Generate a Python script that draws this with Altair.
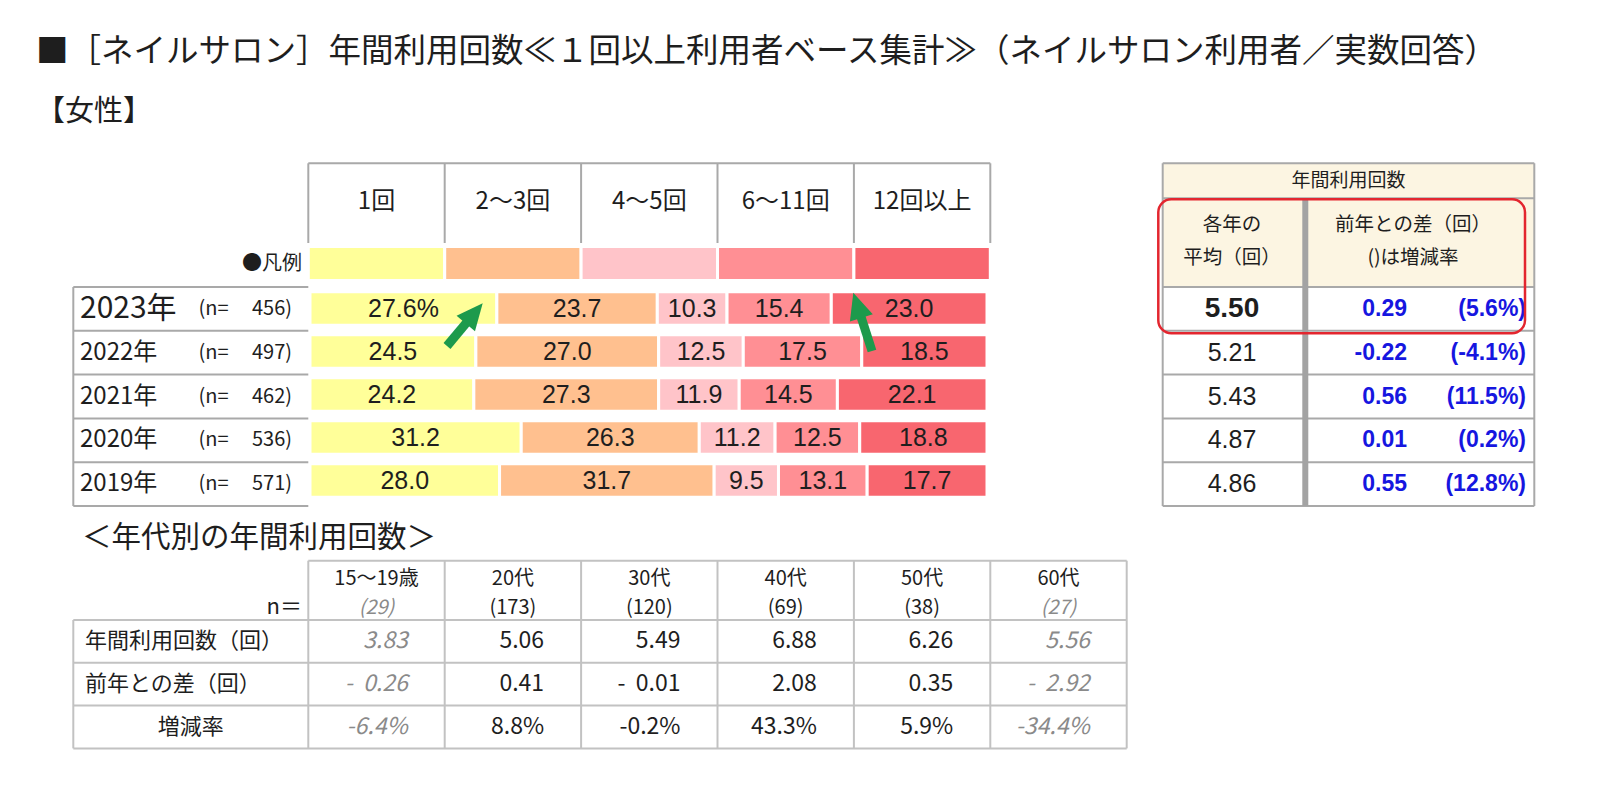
import altair as alt
import pandas as pd

# ------------------------------------------------------------------ data
categories = ["1回", "2～3回", "4～5回", "6～11回", "12回以上"]
years = ["2023年", "2022年", "2021年", "2020年", "2019年"]
sample_n = [456, 497, 462, 536, 571]
share_2023 = [27.6, 23.7, 10.3, 15.4, 23.0]
share_2022 = [24.5, 27.0, 12.5, 17.5, 18.5]
share_2021 = [24.2, 27.3, 11.9, 14.5, 22.1]
share_2020 = [31.2, 26.3, 11.2, 12.5, 18.8]
share_2019 = [28.0, 31.7, 9.5, 13.1, 17.7]
avg_count = [5.50, 5.21, 5.43, 4.87, 4.86]
diff_prev = [0.29, -0.22, 0.56, 0.01, 0.55]
rate_prev = [5.6, -4.1, 11.5, 0.2, 12.8]

age_groups = ["15～19歳", "20代", "30代", "40代", "50代", "60代"]
age_n = [29, 173, 120, 69, 38, 27]
age_avg = [3.83, 5.06, 5.49, 6.88, 6.26, 5.56]
age_diff = [-0.26, 0.41, -0.01, 2.08, 0.35, -2.92]
age_rate = [-6.4, 8.8, -0.2, 43.3, 5.9, -34.4]
age_row_labels = ["年間利用回数（回）", "前年との差（回）", "増減率"]

title_text = "■［ネイルサロン］年間利用回数≪１回以上利用者ベース集計≫（ネイルサロン利用者／実数回答）"
subtitle_text = "【女性】"
legend_text = "●凡例"
age_title = "＜年代別の年間利用回数＞"
rt_head = "年間利用回数"
rt_sub1 = ["各年の", "平均（回）"]
rt_sub2 = ["前年との差（回）", "()は増減率"]

# ------------------------------------------------------------------ layout / style
W, H = 1600, 791
JP = "Noto Sans CJK JP"
NUM = "Liberation Sans"
INK = "#1e1e1e"
GRID = "#a9a9a9"
GRID_LIGHT = "#c2c2c2"
CREAM = "#fcf5e2"
BLUE = "#1616e0"
GREY_TXT = "#8a8a8a"
RED = "#e3262f"
GREEN = "#1d9a4c"
palette = ["#ffff99", "#ffc08f", "#ffc4c9", "#ff8f94", "#f8666f"]
NBSP = "\u00a0"

COL0, COLW = 308.3, 136.4          # column grid shared by both tables
BAR_X = [310, 987]                 # 0 % .. 100 %
ROW0, ROWH = 287.0, 43.8           # year rows
BAR_Y = [287, 502]
HEAD_TOP, HEAD_BOT = 163.3, 243.0
LEG_Y = [246.5, 280.5]
LT_LEFT = 73.3
RT_L, RT_R, RT_MID, RT_H1 = 1162.7, 1534.3, 1305.3, 198.3
BOT_TOP, BOT_HB, BOT_ROWH = 560.7, 620.0, 42.8
ROW_END = ROW0 + 5 * ROWH
BOT_END = BOT_HB + 3 * BOT_ROWH
arrow_tail_x, arrow_tail_y = [447, 872], [346, 351]
arrow_tip_x, arrow_tip_y = [482.7, 853.3], [303.3, 292.7]

xcol = alt.Scale(domain=[0, 6], range=[COL0, COL0 + 6 * COLW], zero=False, nice=False)
xpct = alt.Scale(domain=[0, 100], range=BAR_X, zero=False, nice=False)
yrow = alt.Scale(domain=[0, 5], range=[ROW0, ROW_END], zero=False, nice=False)
ybar = alt.Scale(type="band", domain=years, range=BAR_Y, paddingInner=0.22, paddingOuter=0.11)
ybot = alt.Scale(domain=[0, 3], range=[BOT_HB, BOT_END], zero=False, nice=False)
color_scale = alt.Scale(domain=categories, range=palette)


def signed(expr, spec):
    # hyphen-minus sign (d3-format would give a typographic minus)
    return f"({expr} < 0 ? '-' : '') + format(abs({expr}), '{spec}')"


def label(txt, x, y, size, align="left", font=JP, color=INK, **kw):
    return alt.Chart(alt.Data(values=[{"t": txt}])).mark_text(
        align=align, baseline="middle", font=font, fontSize=size, color=color, **kw
    ).encode(x=alt.value(x), y=alt.value(y), text="t:N")


def hlines(rows, color=GRID, width=2):
    df = pd.DataFrame(rows, columns=["x1", "x2", "y"])
    return alt.Chart(df).mark_rule(color=color, strokeWidth=width).encode(
        x=alt.X("x1:Q", scale=None), x2="x2:Q", y=alt.Y("y:Q", scale=None))


def vlines(rows, color=GRID, width=2):
    df = pd.DataFrame(rows, columns=["x", "y1", "y2"])
    return alt.Chart(df).mark_rule(color=color, strokeWidth=width).encode(
        x=alt.X("x:Q", scale=None), y=alt.Y("y1:Q", scale=None), y2="y2:Q")


def box(x1, x2, y1, y2, **kw):
    return alt.Chart(alt.Data(values=[{"a": 1}])).mark_rect(**kw).encode(
        x=alt.value(x1), x2=alt.value(x2), y=alt.value(y1), y2=alt.value(y2))


layers = []

# titles
layers.append(label(title_text, 36, 52, 32.5))
layers.append(label(subtitle_text, 36, 112, 29))

# ------------------------------------------------------------------ top stacked bars
shares = [share_2023, share_2022, share_2021, share_2020, share_2019]
bar_df = pd.DataFrame([
    {"year": y, "cat": c, "ord": j, "pct": v}
    for y, row in zip(years, shares) for j, (c, v) in enumerate(zip(categories, row))
])
cat_df = pd.DataFrame({"cat": categories, "ord": list(range(len(categories)))})

# header grid
layers.append(vlines([(COL0 + i * COLW, HEAD_TOP, HEAD_BOT) for i in range(6)]))
layers.append(hlines([(COL0, COL0 + 5 * COLW, HEAD_TOP)]))
layers.append(
    alt.Chart(cat_df).transform_calculate(c="datum.ord + 0.5")
    .mark_text(font=JP, fontSize=24, color=INK, baseline="middle")
    .encode(x=alt.X("c:Q", scale=xcol, axis=None), y=alt.value(201.7), text="cat:N")
)
# legend swatches
layers.append(label(legend_text, 302, 264, 20, align="right"))
layers.append(
    alt.Chart(cat_df).transform_calculate(c1="datum.ord + 1")
    .mark_rect(stroke="white", strokeWidth=3)
    .encode(x=alt.X("ord:Q", scale=xcol, axis=None), x2="c1:Q",
            y=alt.value(LEG_Y[0]), y2=alt.value(LEG_Y[1]),
            color=alt.Color("cat:N", scale=color_scale, legend=None))
)
# bars
layers.append(
    alt.Chart(bar_df).mark_bar(stroke="white", strokeWidth=3).encode(
        x=alt.X("pct:Q", stack="zero", scale=xpct, axis=None),
        y=alt.Y("year:N", scale=ybar, axis=None),
        color=alt.Color("cat:N", scale=color_scale, legend=None),
        order=alt.Order("ord:Q"),
    )
)
layers.append(
    alt.Chart(bar_df)
    .transform_window(cum="sum(pct)", groupby=["year"], sort=[alt.SortField("ord")], frame=[None, 0])
    .transform_calculate(
        mid="datum.cum - datum.pct / 2",
        lab=f"format(datum.pct, '.1f') + (datum.year == '{years[0]}' && datum.ord == 0 ? '%' : '')",
    )
    .mark_text(font=NUM, fontSize=25, color=INK, baseline="middle")
    .encode(x=alt.X("mid:Q", scale=xpct, axis=None),
            y=alt.Y("year:N", scale=ybar, axis=None, bandPosition=0.5),
            text="lab:N")
)

# left label table
year_df = pd.DataFrame({"year": years, "idx": list(range(5)), "n": sample_n,
                        "avg": avg_count, "diff": diff_prev, "rate": rate_prev})
layers.append(hlines([(LT_LEFT, COL0, ROW0 + i * ROWH) for i in range(6)]))
layers.append(vlines([(LT_LEFT, ROW0, ROW_END)]))
ybase = alt.Chart(year_df).transform_calculate(r="datum.idx + 0.5")
layers.append(
    ybase.transform_calculate(fs="datum.idx == 0 ? 30 : 24")
    .mark_text(font=JP, color=INK, align="left", baseline="middle")
    .encode(x=alt.value(80), y=alt.Y("r:Q", scale=yrow, axis=None),
            size=alt.Size("fs:Q", scale=None), text="year:N")
)
layers.append(
    ybase.transform_calculate(t="'(n='")
    .mark_text(font=JP, fontSize=20, color=INK, align="left", baseline="middle")
    .encode(x=alt.value(198.5), y=alt.Y("r:Q", scale=yrow, axis=None), text="t:N")
)
layers.append(
    ybase.transform_calculate(t="datum.n + ')'")
    .mark_text(font=JP, fontSize=20, color=INK, align="right", baseline="middle")
    .encode(x=alt.value(292), y=alt.Y("r:Q", scale=yrow, axis=None), text="t:N")
)

# ------------------------------------------------------------------ right summary table
layers.append(box(RT_L, RT_R, HEAD_TOP, ROW0, fill=CREAM))
layers.append(hlines([(RT_L, RT_R, HEAD_TOP), (RT_L, RT_R, RT_H1)]
                     + [(RT_L, RT_R, ROW0 + i * ROWH) for i in range(6)]))
layers.append(vlines([(RT_L, HEAD_TOP, ROW_END), (RT_R, HEAD_TOP, ROW_END)]))
layers.append(vlines([(RT_MID, RT_H1, ROW_END)], color="#a3a3a3", width=6))
layers.append(label(rt_head, (RT_L + RT_R) / 2, 181, 19, align="center"))
layers.append(label(rt_sub1[0], 1232, 225, 19.5, align="center"))
layers.append(label(rt_sub1[1], 1232, 258, 19.5, align="center"))
layers.append(label(rt_sub2[0], 1413, 225, 19.5, align="center"))
layers.append(label(rt_sub2[1], 1413, 258, 19.5, align="center"))

avg_base = ybase.transform_calculate(t="format(datum.avg, '.2f')")
layers.append(
    avg_base.transform_filter("datum.idx == 0")
    .mark_text(font=NUM, fontSize=28, fontWeight="bold", color=INK, baseline="middle")
    .encode(x=alt.value(1232), y=alt.Y("r:Q", scale=yrow, axis=None), text="t:N")
)
layers.append(
    avg_base.transform_filter("datum.idx > 0")
    .mark_text(font=NUM, fontSize=25, color=INK, baseline="middle")
    .encode(x=alt.value(1232), y=alt.Y("r:Q", scale=yrow, axis=None), text="t:N")
)
layers.append(
    ybase.transform_calculate(t=signed("datum.diff", ".2f"))
    .mark_text(font=NUM, fontSize=23, fontWeight="bold", color=BLUE, align="right", baseline="middle")
    .encode(x=alt.value(1407), y=alt.Y("r:Q", scale=yrow, axis=None), text="t:N")
)
layers.append(
    ybase.transform_calculate(t="'(' + " + signed("datum.rate", ".1f") + " + '%)'")
    .mark_text(font=NUM, fontSize=23, fontWeight="bold", color=BLUE, align="right", baseline="middle")
    .encode(x=alt.value(1526), y=alt.Y("r:Q", scale=yrow, axis=None), text="t:N")
)
layers.append(box(1158.3, 1525, 199.3, 333.3, fill="white", fillOpacity=0,
                  stroke=RED, strokeWidth=2.5, cornerRadius=13))

# ------------------------------------------------------------------ arrows
arrow_df = pd.DataFrame({"tx": arrow_tail_x, "ty": arrow_tail_y, "hx": arrow_tip_x, "hy": arrow_tip_y})
arrow_base = alt.Chart(arrow_df).transform_calculate(
    dx="datum.hx - datum.tx",
    dy="datum.hy - datum.ty",
    L="sqrt(datum.dx * datum.dx + datum.dy * datum.dy)",
    ex="datum.hx - 18 * datum.dx / datum.L",
    ey="datum.hy - 18 * datum.dy / datum.L",
    ang="(atan2(datum.dx, -datum.dy) * 180 / PI + 360) % 360",
)
layers.append(
    arrow_base.mark_rule(color=GREEN, strokeWidth=9, strokeCap="butt").encode(
        x=alt.X("tx:Q", scale=None), y=alt.Y("ty:Q", scale=None), x2="ex:Q", y2="ey:Q")
)
layers.append(
    arrow_base.mark_point(shape="M0,0L1,2.2L-1,2.2Z", size=576, filled=True, fill=GREEN,
                          opacity=1, strokeWidth=0)
    .encode(x=alt.X("hx:Q", scale=None), y=alt.Y("hy:Q", scale=None),
            angle=alt.Angle("ang:Q", scale=None))
)

# ------------------------------------------------------------------ age table
layers.append(label(age_title, 82, 538, 29.5))
layers.append(vlines([(COL0 + i * COLW, BOT_TOP, BOT_END) for i in range(7)], color=GRID_LIGHT))
layers.append(vlines([(LT_LEFT, BOT_HB, BOT_END)], color=GRID_LIGHT))
layers.append(hlines([(COL0, COL0 + 6 * COLW, BOT_TOP)]
                     + [(LT_LEFT, COL0 + 6 * COLW, BOT_HB + i * BOT_ROWH) for i in range(4)],
                     color=GRID_LIGHT))
layers.append(label("n＝", 302, 607, 22, align="right"))

age_df = pd.DataFrame({"age": age_groups, "col": list(range(6)), "n": age_n})
ahead = alt.Chart(age_df).transform_calculate(c="datum.col + 0.5", nt="'(' + datum.n + ')'")
layers.append(
    ahead.mark_text(font=JP, fontSize=20, color=INK, baseline="middle")
    .encode(x=alt.X("c:Q", scale=xcol, axis=None), y=alt.value(578.5), text="age:N")
)
layers.append(
    ahead.transform_filter("datum.n >= 30")
    .mark_text(font=JP, fontSize=20, color=INK, baseline="middle")
    .encode(x=alt.X("c:Q", scale=xcol, axis=None), y=alt.value(607.5), text="nt:N")
)
layers.append(
    ahead.transform_filter("datum.n < 30")
    .mark_text(font=JP, fontSize=20, color=GREY_TXT, fontStyle="italic", baseline="middle")
    .encode(x=alt.X("c:Q", scale=xcol, axis=None), y=alt.value(607.5), text="nt:N")
)

rowlab_df = pd.DataFrame({"lab": age_row_labels, "r": [0.5, 1.5, 2.5]})
layers.append(
    alt.Chart(rowlab_df).transform_filter("datum.r < 2")
    .mark_text(font=JP, fontSize=22, color=INK, align="left", baseline="middle")
    .encode(x=alt.value(85), y=alt.Y("r:Q", scale=ybot, axis=None), text="lab:N")
)
layers.append(
    alt.Chart(rowlab_df).transform_filter("datum.r > 2")
    .mark_text(font=JP, fontSize=22, color=INK, align="center", baseline="middle")
    .encode(x=alt.value((LT_LEFT + COL0) / 2), y=alt.Y("r:Q", scale=ybot, axis=None), text="lab:N")
)

age_vals = pd.DataFrame(
    [{"col": i, "n": n, "kind": 0, "v": a} for i, (n, a) in enumerate(zip(age_n, age_avg))]
    + [{"col": i, "n": n, "kind": 1, "v": d} for i, (n, d) in enumerate(zip(age_n, age_diff))]
    + [{"col": i, "n": n, "kind": 2, "v": r} for i, (n, r) in enumerate(zip(age_n, age_rate))]
)
vbase = alt.Chart(age_vals).transform_calculate(
    c="datum.col + 1",
    r="datum.kind + 0.5",
    t="datum.kind == 0 ? format(datum.v, '.2f') : (datum.kind == 1 ? "
      f"(datum.v < 0 ? '-{NBSP}{NBSP}' + format(-datum.v, '.2f') : format(datum.v, '.2f')) : "
      "(" + signed("datum.v", ".1f") + ") + '%')",
)
layers.append(
    vbase.transform_filter("datum.n >= 30")
    .mark_text(font=JP, fontSize=23, color=INK, align="right", baseline="middle", dx=-37)
    .encode(x=alt.X("c:Q", scale=xcol, axis=None), y=alt.Y("r:Q", scale=ybot, axis=None), text="t:N")
)
layers.append(
    vbase.transform_filter("datum.n < 30")
    .mark_text(font=JP, fontSize=23, color=GREY_TXT, fontStyle="italic", align="right",
               baseline="middle", dx=-37)
    .encode(x=alt.X("c:Q", scale=xcol, axis=None), y=alt.Y("r:Q", scale=ybot, axis=None), text="t:N")
)

chart = (
    alt.layer(*layers)
    .resolve_scale(x="independent", y="independent")
    .properties(width=W, height=H, autosize=alt.AutoSizeParams(type="none"), padding=0,
                background="white")
    .configure_view(stroke="transparent")
)
chart.save("out.html", embed_options={"renderer": "svg", "actions": False})
